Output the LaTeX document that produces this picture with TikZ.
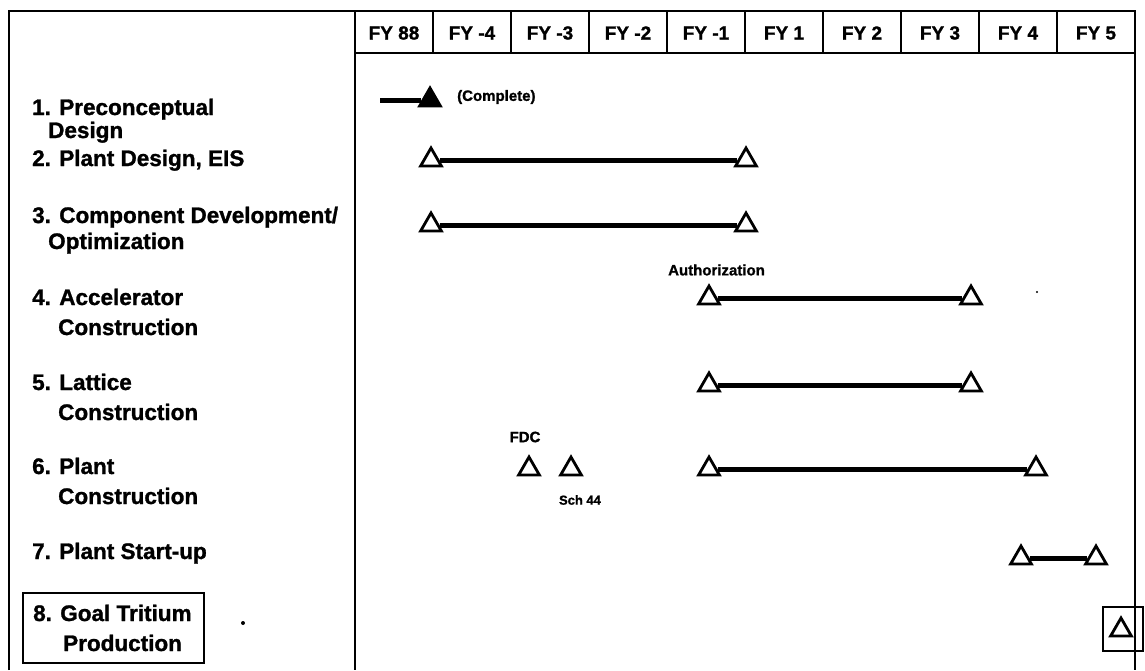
\documentclass[tikz,border=0pt]{standalone}
\usepackage{fontspec}
\setmainfont{Liberation Sans}[BoldFeatures={FakeBold=1.2}]
\usetikzlibrary{shapes.geometric}
\begin{document}
\begin{tikzpicture}[x=1pt,y=-1pt,
  frame/.style={line width=2.5pt},
  bar/.style={line width=5pt},
  mstone/.style={regular polygon, regular polygon sides=3, draw, fill=white, line width=2.8pt, minimum size=24pt, inner sep=0pt},
  done/.style={mstone, fill=black},
  lbl/.style={anchor=base west, inner sep=0pt, font=\fontsize{22.5}{27}\selectfont\bfseries},
  hdr/.style={inner sep=0pt, font=\fontsize{19}{22}\selectfont\bfseries},
  note/.style={inner sep=0pt, font=\fontsize{15}{18}\selectfont\bfseries},
  small/.style={inner sep=0pt, font=\fontsize{13}{16}\selectfont\bfseries},
]
\useasboundingbox (0,0) rectangle (1145,670);

% header labels
\foreach \t [count=\i] in {FY 88,FY -4,FY -3,FY -2,FY -1,FY 1,FY 2,FY 3,FY 4,FY 5}
  \node[hdr] (h\i) at ({394+78*(\i-1)},33) {\t};

% row labels
\node[lbl] (l1) at (32,115) {1. Preconceptual};
\node[lbl] (l1b) at (48,138) {Design};
\node[lbl] (l2) at (32,166) {2. Plant Design, EIS};
\node[lbl] (l3) at (32,223) {3. Component Development/};
\node[lbl] (l3b) at (48,249) {Optimization};
\node[lbl] (l4) at (32,305) {4. Accelerator};
\node[lbl] (l4b) at (58,335) {Construction};
\node[lbl] (l5) at (32,390) {5. Lattice};
\node[lbl] (l5b) at (58,420) {Construction};
\node[lbl] (l6) at (32,474) {6. Plant};
\node[lbl] (l6b) at (58,504) {Construction};
\node[lbl] (l7) at (32,559) {7. Plant Start-up};
\node[lbl] (l8) at (33,621) {8. Goal Tritium};
\node[lbl] (l8b) at (63,651) {Production};
\draw[line width=2.2pt] (23,593) rectangle (204,663);

% milestones
\node[done] (m1) at (430,100) {};
\coordinate (s1) at (380,100);
\draw[bar] (s1) -- (m1);
\node[note, anchor=west] (c1) at (457,97) {(Complete)};

\node[mstone] (m2a) at (431,160) {};
\node[mstone] (m2b) at (746,160) {};
\draw[bar] (m2a) -- (m2b);

\node[mstone] (m3a) at (431,225) {};
\node[mstone] (m3b) at (746,225) {};
\draw[bar] (m3a) -- (m3b);

\node[note, anchor=west] (auth) at (668,270) {Authorization};
\node[mstone] (m4a) at (709,298) {};
\node[mstone] (m4b) at (971,298) {};
\draw[bar] (m4a) -- (m4b);

\node[mstone] (m5a) at (709,385) {};
\node[mstone] (m5b) at (971,385) {};
\draw[bar] (m5a) -- (m5b);

\node[note] (fdc) at (525,437) {FDC};
\node[mstone] (m6f) at (529,469) {};
\node[mstone] (m6s) at (571,469) {};
\node[small] (sch) at (580,500) {Sch 44};
\node[mstone] (m6a) at (709,469) {};
\node[mstone] (m6b) at (1036,469) {};
\draw[bar] (m6a) -- (m6b);

\node[mstone] (m7a) at (1021,558) {};
\node[mstone] (m7b) at (1096,558) {};
\draw[bar] (m7a) -- (m7b);

\node[draw, line width=2.2pt, minimum width=40pt, minimum height=44pt, inner sep=0pt] (sq8) at (1123,629) {};
\node[mstone] (m8) at (1121,630) {};

% stray dots
\fill (243,623) circle (2);
\fill (1037,292) circle (1.2);

% frame
\draw[frame] (9,670) -- (9,11) -- (1135,11) -- (1135,670);
\draw[frame] (355,11) -- (355,670);
\draw[frame] (355,53) -- (1135,53);
\foreach \k in {1,...,9} \draw[frame] ({355+78*\k},11) -- ({355+78*\k},53);
\end{tikzpicture}
\end{document}
